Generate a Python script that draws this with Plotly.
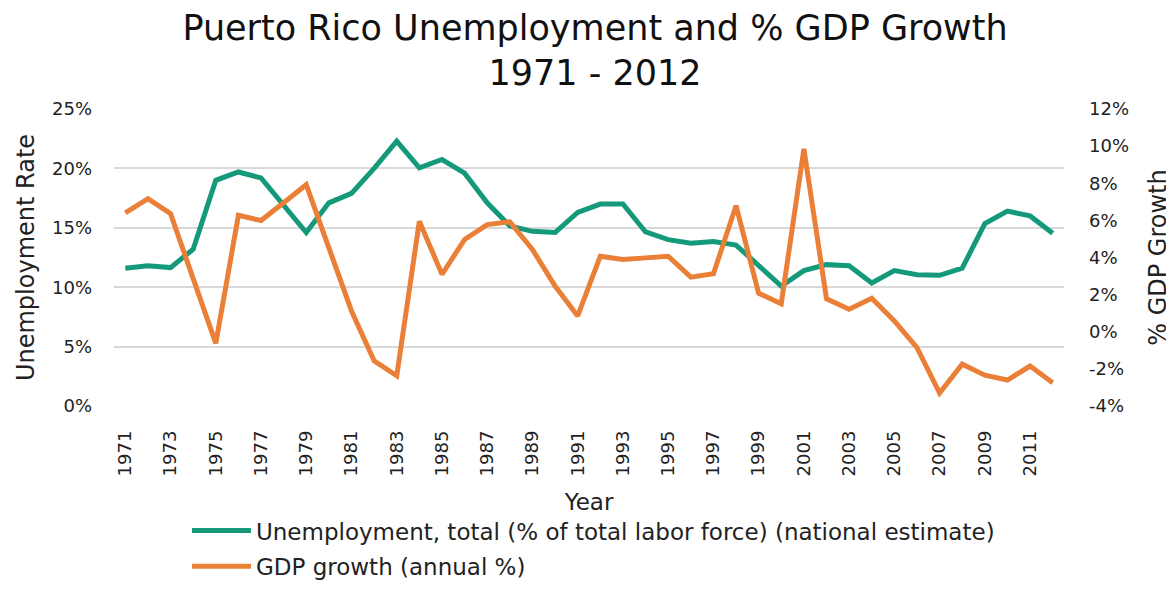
import plotly.graph_objects as go

years = list(range(1971, 2013))
unemployment = [11.6, 11.8, 11.65, 13.2, 19.0, 19.7, 19.2, 16.9, 14.6, 17.1,
                17.9, 20.0, 22.3, 20.05, 20.75, 19.6, 17.1, 15.15, 14.7, 14.6,
                16.3, 17.0, 17.0, 14.65, 14.0, 13.7, 13.85, 13.55, 11.85, 10.1,
                11.4, 11.9, 11.8, 10.35, 11.4, 11.05, 11.0, 11.6, 15.35, 16.4,
                16.0, 14.55]
gdp_growth = [6.4, 7.17, 6.36, 2.9, -0.63, 6.27, 5.99, 6.95, 7.92, 4.52,
              1.12, -1.57, -2.37, 5.95, 3.09, 4.97, 5.77, 5.92, 4.43, 2.46,
              0.85, 4.07, 3.89, 3.98, 4.07, 2.94, 3.12, 6.79, 2.07, 1.51,
              9.85, 1.78, 1.21, 1.8, 0.58, -0.85, -3.3, -1.75, -2.34, -2.6,
              -1.85, -2.75]

y1_ticks = [0, 5, 10, 15, 20, 25]
y1_labels = ["0%", "5%", "10%", "15%", "20%", "25%"]
y2_ticks = [-4, -2, 0, 2, 4, 6, 8, 10, 12]
y2_labels = ["-4%", "-2%", "0%", "2%", "4%", "6%", "8%", "10%", "12%"]
x_ticks = list(range(1971, 2012, 2))

GREEN = "#149A7B"
ORANGE = "#EA7F38"
FONT = "Century Gothic, DejaVu Sans, sans-serif"

fig = go.Figure()
fig.add_trace(go.Scatter(
    x=years, y=unemployment, mode="lines",
    name="Unemployment, total (% of total labor force) (national estimate)",
    line=dict(color=GREEN, width=5), yaxis="y", legend="legend"))
fig.add_trace(go.Scatter(
    x=years, y=gdp_growth, mode="lines",
    name="GDP growth (annual %)",
    line=dict(color=ORANGE, width=5), yaxis="y2", legend="legend2"))

fig.update_layout(
    width=1174, height=591,
    margin=dict(l=106, r=118, t=101, b=184),
    paper_bgcolor="white", plot_bgcolor="white",
    font=dict(family=FONT, color="#222222", size=18),
    title=dict(text="Puerto Rico Unemployment and % GDP Growth<br>1971 - 2012",
               x=0.5, xanchor="center", y=0.946, yanchor="top",
               font=dict(size=35, color="#111111")),
    xaxis=dict(range=[1970.5, 2012.5], tickmode="array", tickvals=x_ticks,
               tickangle=-90, showgrid=False, zeroline=False, showline=False,
               ticks="", tickfont=dict(size=18), ticklabelstandoff=20,
               automargin=False,
               title=dict(text="Year", font=dict(size=23), standoff=18)),
    yaxis=dict(range=[0, 25], tickmode="array", tickvals=y1_ticks, ticktext=y1_labels,
               showgrid=True, gridcolor="#D9D9D9", gridwidth=1.5, zeroline=False,
               showline=False, ticks="", ticklabelstandoff=21, automargin=False,
               title=dict(text="Unemployment Rate", font=dict(size=24), standoff=10)),
    yaxis2=dict(range=[-4, 12], overlaying="y", side="right", tickmode="array",
                tickvals=y2_ticks, ticktext=y2_labels, showgrid=False,
                zeroline=False, showline=False, ticks="", ticklabelstandoff=24,
                automargin=False,
                title=dict(text="% GDP Growth", font=dict(size=24), standoff=21)),
    legend=dict(x=0.0768, xanchor="left", y=-0.4195, yanchor="middle",
                font=dict(size=23), bgcolor="rgba(0,0,0,0)", itemwidth=59),
    legend2=dict(x=0.0768, xanchor="left", y=-0.612, yanchor="bottom",
                 font=dict(size=23), bgcolor="rgba(0,0,0,0)", itemwidth=59),
    showlegend=True,
)

fig.write_html("out.html")
